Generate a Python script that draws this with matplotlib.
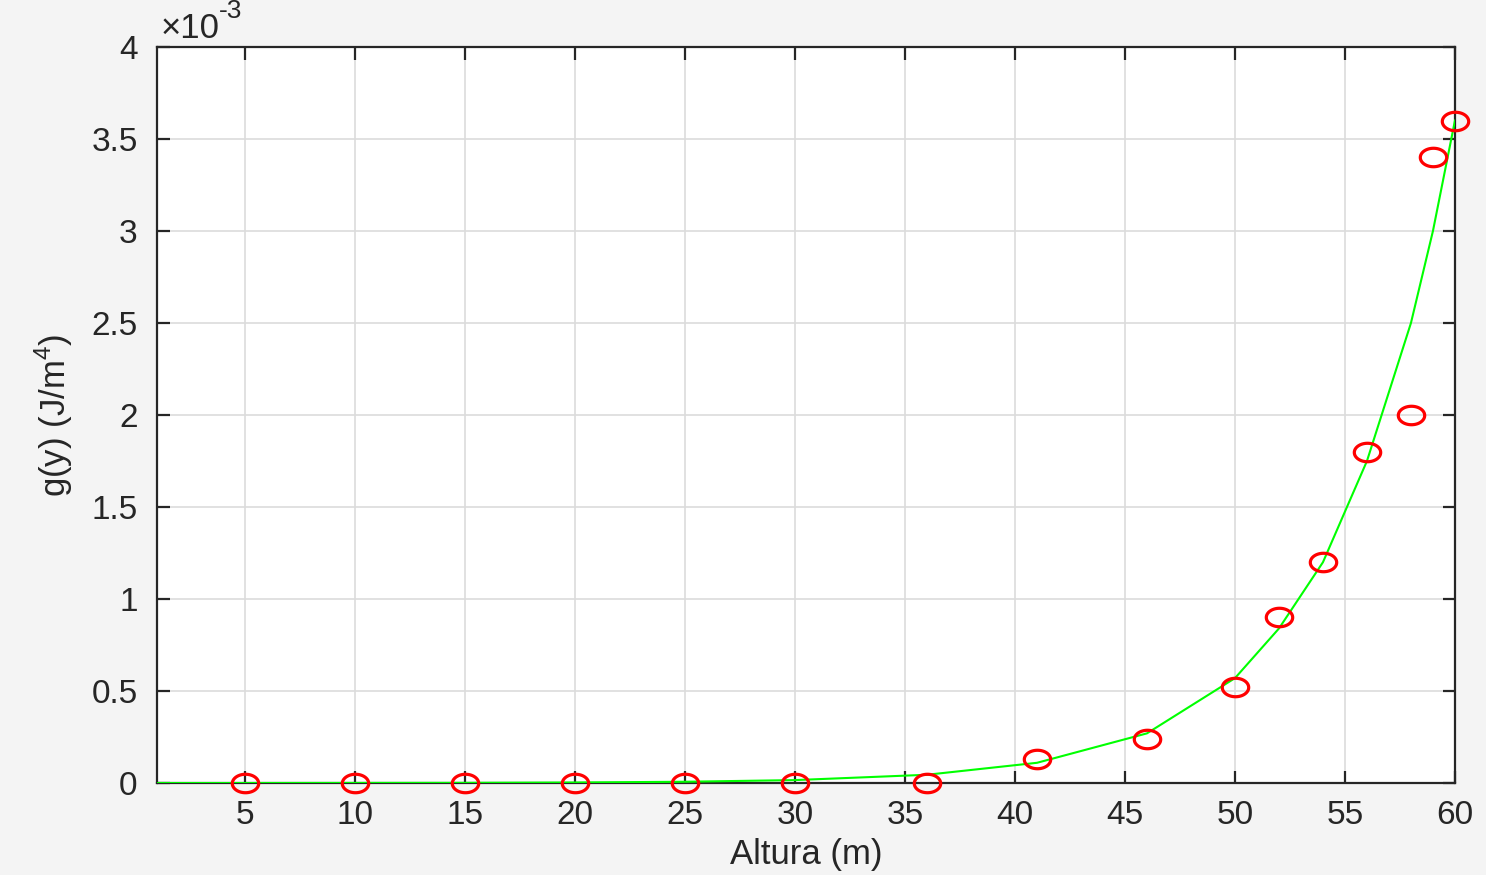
import numpy as np
import matplotlib
matplotlib.use("Agg")
import matplotlib.pyplot as plt
from matplotlib.path import Path
from matplotlib.ticker import FuncFormatter, MultipleLocator

plt.rcParams['font.family'] = ['Liberation Sans', 'DejaVu Sans']

# datos medidos (altura en m, g(y) en J/m^4)
altura = [5, 10, 15, 20, 25, 30, 36, 41, 46, 50, 52, 54, 56, 58, 59, 60]
g_medido = [0, 0, 0, 0, 0, 0, 0, 0.13e-3, 0.24e-3, 0.52e-3, 0.9e-3,
            1.2e-3, 1.8e-3, 2.0e-3, 3.4e-3, 3.6e-3]

# curva ajustada
altura_ajuste = [1, 5, 10, 15, 20, 25, 30, 36, 41, 46, 50, 52, 54, 56, 58, 59, 60]
g_ajuste = [0, 0.0001e-3, 0.0005e-3, 0.001e-3, 0.003e-3, 0.007e-3, 0.016e-3,
            0.045e-3, 0.11e-3, 0.27e-3, 0.57e-3, 0.84e-3, 1.2e-3, 1.75e-3,
            2.5e-3, 3.0e-3, 3.6e-3]

xticks = [5, 10, 15, 20, 25, 30, 35, 40, 45, 50, 55, 60]

# marcador elíptico (la imagen original está estirada)
t = np.linspace(0, 2 * np.pi, 60)
elipse = Path(np.column_stack([np.cos(t), 0.7 * np.sin(t)]), closed=True)

fig = plt.figure(figsize=(14.86, 8.75), dpi=100, facecolor='#f4f4f4')
ax = fig.add_axes([0.1057, 0.1051, 0.9791 - 0.1057, 0.9463 - 0.1051])
ax.set_facecolor('white')

ax.plot(altura_ajuste, g_ajuste, color='#00ff00', lw=1.5, zorder=3)
ax.plot(altura, g_medido, linestyle='none', marker=elipse, markersize=19,
        markerfacecolor='none', markeredgecolor='#ff0000', markeredgewidth=2.3,
        zorder=4, clip_on=False)

ax.set_xlim(1, 60)
ax.set_ylim(0, 4e-3)
ax.set_xticks(xticks)
ax.yaxis.set_major_locator(MultipleLocator(0.5e-3))
ax.yaxis.set_major_formatter(FuncFormatter(lambda v, p: '%g' % round(v * 1e3, 3)))

ax.grid(True, color='#dcdcdc', lw=1.2)
ax.set_axisbelow(True)
for s in ax.spines.values():
    s.set_linewidth(1.6)
    s.set_color('#262626')
ax.tick_params(direction='in', length=9, width=1.6, color='#262626',
               labelsize=24, labelcolor='#262626', top=True, right=True)
ax.tick_params(axis='x', pad=12)
ax.tick_params(axis='y', pad=14)

ax.set_xlabel('Altura (m)', fontsize=25, color='#262626', labelpad=5)
ax.set_ylabel('g(y) (J/m$^{\\mathregular{4}}$)', fontsize=25, color='#262626', labelpad=12)

# multiplicador del eje y, estilo MATLAB
ax.text(0.003, 1.003, '\u00d710', transform=ax.transAxes,
        fontsize=25, color='#262626', ha='left', va='bottom')
ax.text(0.0475, 1.032, '-3', transform=ax.transAxes,
        fontsize=19, color='#262626', ha='left', va='bottom')

fig.savefig('out.png', dpi=100, facecolor=fig.get_facecolor())
